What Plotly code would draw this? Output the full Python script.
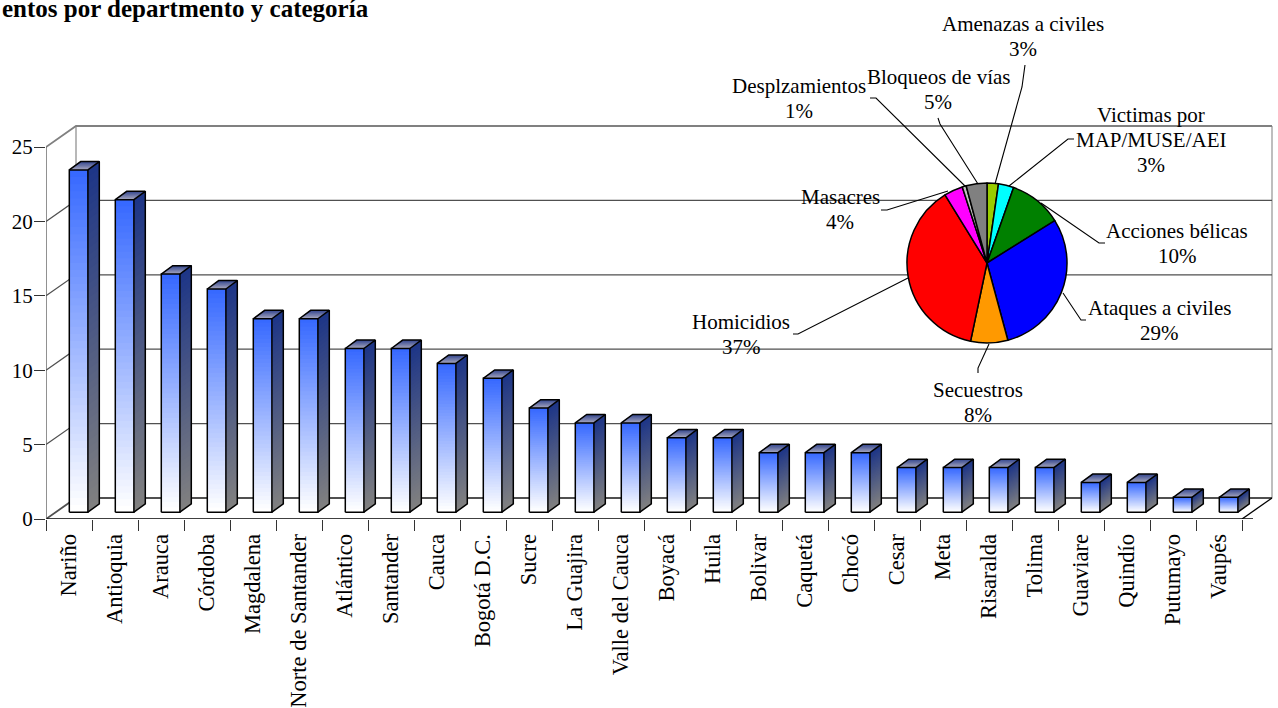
import plotly.graph_objects as go

# ---------- data ----------
departments = ["Nariño", "Antioquia", "Arauca", "Córdoba", "Magdalena", "Norte de Santander",
               "Atlántico", "Santander", "Cauca", "Bogotá D.C.", "Sucre", "La Guajira",
               "Valle del Cauca", "Boyacá", "Huila", "Bolivar", "Caquetá", "Chocó", "Cesar",
               "Meta", "Risaralda", "Tolima", "Guaviare", "Quindío", "Putumayo", "Vaupés"]
events = [23, 21, 16, 15, 13, 13, 11, 11, 10, 9, 7, 6, 6, 5, 5, 4, 4, 4, 3, 3, 3, 3, 2, 2, 1, 1]
y_ticks = [0, 5, 10, 15, 20, 25]

pie_names = ["Amenazas a civiles", "Victimas por|MAP/MUSE/AEI", "Acciones bélicas", "Ataques a civiles",
             "Secuestros", "Homicidios", "Masacres", "Desplzamientos", "Bloqueos de vías"]
pie_shares = [2.3, 3.1, 10.7, 29.7, 7.5, 37.9, 3.8, 0.8, 4.2]
pie_pct_labels = ["3%", "3%", "10%", "29%", "8%", "37%", "4%", "1%", "5%"]
title_text = "entos por departmento y categoría"

# ---------- style / layout ----------
W, H = 1278, 708
L, B = 46, 519            # page pixel of the chart origin
RIGHT, TOP = 1276, 120    # page pixel limits of the drawing area (includes the 3D walls)
FONT = "Liberation Serif"
FS = 21
TICK_FS = 22.5
PIE_COLORS = ["#99cc00", "#00ffff", "#008000", "#0000ff", "#ff9900", "#ff0000", "#ff00ff", "#c0c0c0", "#808080"]

n = len(departments)
UX = 46.0                 # px per category
UY = 14.88                # px per value
WALL_DX, WALL_DY = 30 / UX, 21 / UY
BAR_W = 18.6 / UX
FRONT_DX, FRONT_DY = 9.6 / UX, 6.8 / UY
DEPTH_DX, DEPTH_DY = 11.4 / UX, 8.4 / UY
BANDS, TOP_BANDS = 48, 14


def px(x):
    return (x - L) / (RIGHT - L)


def py(y):
    return (B - y) / (B - TOP)


def lerp(c0, c1, t):
    return "rgb(%d,%d,%d)" % tuple(round(a + (b - a) * t) for a, b in zip(c0, c1))


FRONT_BOT, FRONT_TOP = (255, 255, 255), (51, 102, 255)
SIDE_BOT, SIDE_TOP = (128, 128, 128), (28, 52, 135)
TOPF_FRONT, TOPF_BACK = (165, 165, 190), (45, 65, 140)

fig = go.Figure()


def add_path(xs, ys, color, width):
    fig.add_trace(go.Scatter(x=xs, y=ys, mode="lines", line=dict(color=color, width=width),
                             hoverinfo="skip", showlegend=False))


def add_fill(xs, ys, color):
    fig.add_trace(go.Scatter(x=xs, y=ys, mode="lines", fill="toself", fillcolor=color,
                             line=dict(width=0, color=color),
                             hoverinfo="skip", showlegend=False))


# walls and floor
XR = n + WALL_DX
add_path([WALL_DX, WALL_DX], [WALL_DY, 25 + WALL_DY], "#a0a0a0", 1.5)
add_path([XR, XR], [WALL_DY, 25 + WALL_DY], "#a8a8a8", 1.5)
for v in y_ticks:
    col = "#808080" if v == 25 else "#505050"
    add_path([0, WALL_DX, XR], [v, v + WALL_DY, v + WALL_DY], col, 1.8 if v in (0, 25) else 1.2)
add_path([n, XR], [0, WALL_DY], "#000000", 1.3)
add_path([0, n + 11 / UX], [0, 0], "#000000", 1.3)   # front axis line
add_path([0, 0], [0, 25], "#555555", 1.3)            # value axis line

# gradient faces: each band runs on to the bar end, so no seams appear between bands
for b in range(BANDS):
    t = b / BANDS
    xs, ys = [], []
    sx, sy = [], []
    for i, v in enumerate(events):
        x0 = i + 0.5 - BAR_W / 2 + FRONT_DX
        x1 = x0 + BAR_W
        y0 = FRONT_DY
        ya = y0 + v * t
        yb = y0 + v
        xs += [x0, x1, x1, x0, x0, None]
        ys += [ya, ya, yb, yb, ya, None]
        sx += [x1, x1 + DEPTH_DX, x1 + DEPTH_DX, x1, x1, None]
        sy += [ya, ya + DEPTH_DY, yb + DEPTH_DY, yb, ya, None]
    add_fill(xs, ys, lerp(FRONT_BOT, FRONT_TOP, t))
    add_fill(sx, sy, lerp(SIDE_BOT, SIDE_TOP, t))

for b in range(TOP_BANDS):
    t = b / TOP_BANDS
    xs, ys = [], []
    for i, v in enumerate(events):
        x0 = i + 0.5 - BAR_W / 2 + FRONT_DX
        x1 = x0 + BAR_W
        yb = FRONT_DY + v
        xs += [x0 + DEPTH_DX * t, x1 + DEPTH_DX * t, x1 + DEPTH_DX, x0 + DEPTH_DX, x0 + DEPTH_DX * t, None]
        ys += [yb + DEPTH_DY * t, yb + DEPTH_DY * t, yb + DEPTH_DY, yb + DEPTH_DY, yb + DEPTH_DY * t, None]
    add_fill(xs, ys, lerp(TOPF_FRONT, TOPF_BACK, t))

# bar outlines
ox, oy = [], []
for i, v in enumerate(events):
    x0 = i + 0.5 - BAR_W / 2 + FRONT_DX
    x1 = x0 + BAR_W
    y0 = FRONT_DY
    yb = y0 + v
    ox += [x0, x1, x1, x0, x0, None,
           x1, x1 + DEPTH_DX, x1 + DEPTH_DX, x1, None,
           x0, x0 + DEPTH_DX, x1 + DEPTH_DX, None]
    oy += [y0, y0, yb, yb, y0, None,
           y0, y0 + DEPTH_DY, yb + DEPTH_DY, yb, None,
           yb, yb + DEPTH_DY, yb + DEPTH_DY, None]
add_path(ox, oy, "#000000", 1.5)

# pie
fig.add_trace(go.Pie(values=pie_shares, labels=[s.replace("|", " ") for s in pie_names], sort=False,
                     direction="clockwise", rotation=0, textinfo="none", hoverinfo="label+percent",
                     showlegend=False, marker=dict(colors=PIE_COLORS, line=dict(color="#000000", width=1.5)),
                     domain=dict(x=[px(907), px(1067)], y=[py(343), py(183)])))

# leader lines (pixel anchors on the page)
LEADERS = [
    [(1025, 65), (1022, 87), (995, 184)],
    [(1074, 139), (1068, 139), (1009, 186)],
    [(1105, 243), (1099, 243), (1041, 203)],
    [(1086, 320), (1081, 320), (1063, 293)],
    [(978, 373), (978, 368), (989, 344)],
    [(793, 334), (798, 334), (908, 278)],
    [(881, 210), (887, 210), (948, 191)],
    [(870, 98), (876, 98), (965, 186)],
    [(938, 118), (940, 124), (978, 184)],
]
shapes = []
for pts in LEADERS:
    path = "M " + " L ".join("%.5f,%.5f" % (px(a), py(b)) for a, b in pts)
    shapes.append(dict(type="path", path=path, xref="paper", yref="paper",
                       line=dict(color="#000000", width=1.1), layer="above"))

# label centres (x, y of first line) on the page
LABEL_POS = [(1023, 24), (1151, 115), (1177, 231), (1159, 308), (978, 390),
             (741, 322), (840, 197), (799, 86), (938, 77)]
LINE_H = 25
annotations = []
for name, pct, (lx, ly) in zip(pie_names, pie_pct_labels, LABEL_POS):
    lines = name.split("|") + [pct]
    for k, txt in enumerate(lines):
        annotations.append(dict(text=txt, x=px(lx), y=py(ly + k * LINE_H), xref="paper", yref="paper",
                                xanchor="center", yanchor="middle", showarrow=False,
                                font=dict(family=FONT, size=FS, color="#000000")))

annotations.append(dict(text="<b>%s</b>" % title_text, x=px(0), y=py(8), xref="paper", yref="paper",
                        xanchor="left", yanchor="middle", showarrow=False,
                        font=dict(family=FONT, size=25, color="#000000")))

fig.update_layout(
    width=W, height=H, autosize=False,
    margin=dict(l=L, r=W - RIGHT, t=TOP, b=H - B, pad=0),
    paper_bgcolor="white", plot_bgcolor="rgba(0,0,0,0)",
    showlegend=False, shapes=shapes, annotations=annotations,
    xaxis=dict(range=[0, (RIGHT - L) / UX], tickmode="array", tickvals=[i + 0.5 for i in range(n)],
               ticktext=departments, tickangle=-90, ticks="outside", ticklen=5,
               tickcolor="rgba(0,0,0,0)", showgrid=False, zeroline=False, showline=False,
               tickfont=dict(family=FONT, size=TICK_FS, color="#000000"), automargin=False,
               minor=dict(tickmode="array", tickvals=list(range(n + 1)), ticks="outside", ticklen=11,
                          tickcolor="#333333", tickwidth=1.2, showgrid=False)),
    yaxis=dict(range=[0, (B - TOP) / UY], tickmode="array", tickvals=y_ticks, ticks="outside", ticklen=11,
               tickcolor="#333333", tickwidth=1.2, showgrid=False, zeroline=False, showline=False,
               automargin=False, ticklabelstandoff=-3,
               tickfont=dict(family=FONT, size=FS, color="#000000")),
)

fig.write_html("out.html", config={"displayModeBar": False},
               post_script="document.body.style.margin='0';")
